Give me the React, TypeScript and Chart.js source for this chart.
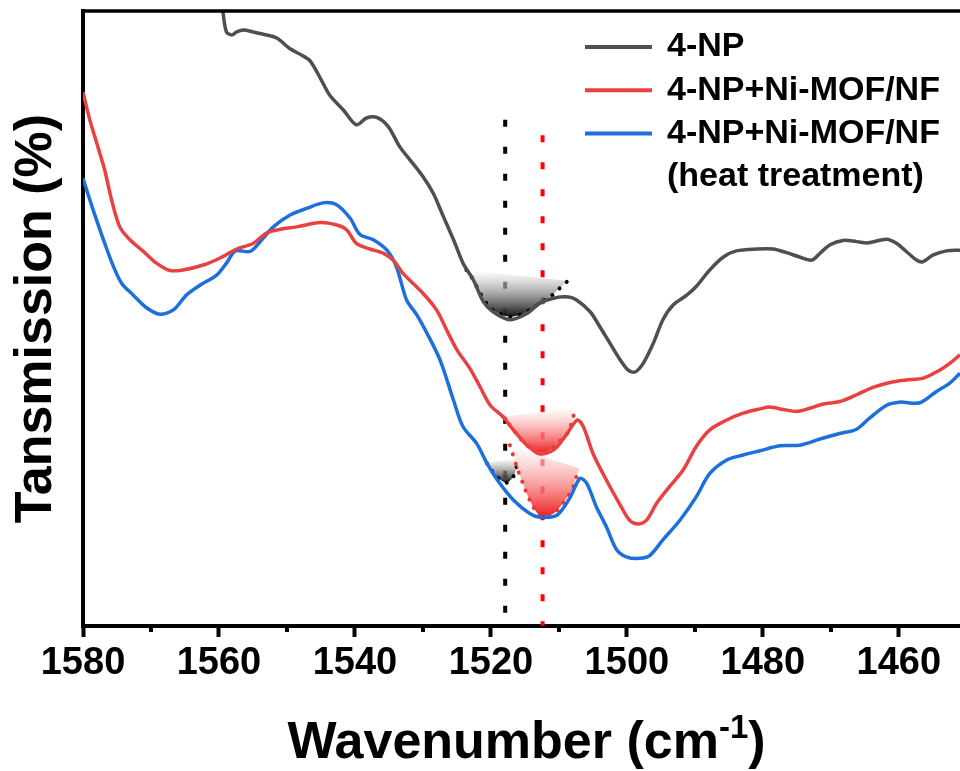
import React, { useEffect, useRef } from 'react';
import { Chart, registerables } from 'chart.js';

Chart.register(...registerables);

const FONT = '"Liberation Sans", Arial, Helvetica, sans-serif';

// ---- Series labels / colours ----
const seriesLabels = ['4-NP', '4-NP+Ni-MOF/NF', '4-NP+Ni-MOF/NF'];
const seriesSubLabels = ['', '', '(heat treatment)'];
const seriesColors = ['#4f4f4f', '#e8413f', '#1c6fdc'];

// ---- 4-NP ----
const npWavenumber = [1559.6, 1559.4, 1558.9, 1558.1, 1557.4, 1556.4, 1555.0, 1553.0, 1551.5, 1549.6, 1547.8, 1546.6, 1545.1, 1543.7, 1541.7, 1539.8, 1538.3, 1536.8, 1535.1, 1533.4, 1531.9, 1530.0, 1528.5, 1527.0, 1525.5, 1524.1, 1522.6, 1521.1, 1519.7, 1517.2, 1514.7, 1512.8, 1510.8, 1508.6, 1507.4, 1505.4, 1504.0, 1502.5, 1501.0, 1499.8, 1498.8, 1497.6, 1496.1, 1494.7, 1493.2, 1491.2, 1489.8, 1487.8, 1485.8, 1483.9, 1480.9, 1478.5, 1476.5, 1474.6, 1472.8, 1471.6, 1470.1, 1468.2, 1466.2, 1464.5, 1461.8, 1460.3, 1458.9, 1457.4, 1456.5, 1455.0, 1453.0, 1451.0];
const npT = [101.8, 99.7, 96.6, 96.1, 96.6, 96.9, 96.6, 96.1, 95.6, 93.9, 92.8, 91.9, 89.1, 86.3, 83.9, 81.5, 82.6, 82.7, 81.2, 77.9, 75.8, 73.1, 70.4, 66.6, 62.8, 59.0, 56.3, 52.7, 51.1, 49.8, 50.8, 52.5, 53.3, 53.5, 53.0, 51.1, 48.7, 46.0, 43.3, 41.6, 41.3, 42.7, 46.0, 49.8, 52.2, 53.8, 55.2, 57.9, 60.0, 61.0, 61.3, 61.3, 60.7, 60.0, 59.5, 60.6, 62.0, 62.7, 62.5, 62.3, 62.9, 62.2, 60.9, 59.5, 59.2, 60.3, 61.0, 61.1];

// ---- 4-NP + Ni-MOF/NF ----
const mofWavenumber = [1580.0, 1579.0, 1577.8, 1576.8, 1575.8, 1574.6, 1573.1, 1571.1, 1569.2, 1567.2, 1565.3, 1562.3, 1559.9, 1557.4, 1555.0, 1553.0, 1551.0, 1548.6, 1545.1, 1542.7, 1541.2, 1539.8, 1537.8, 1535.8, 1534.4, 1532.9, 1530.0, 1528.0, 1526.5, 1525.0, 1523.1, 1521.6, 1520.1, 1518.2, 1516.7, 1514.7, 1512.9, 1510.8, 1508.9, 1507.3, 1506.4, 1505.0, 1503.0, 1501.0, 1499.6, 1498.3, 1497.1, 1495.6, 1493.7, 1491.7, 1489.8, 1487.8, 1485.3, 1482.9, 1480.4, 1479.0, 1477.0, 1475.0, 1473.1, 1471.1, 1468.7, 1466.2, 1463.8, 1461.3, 1458.9, 1456.4, 1454.0, 1452.5, 1451.0];
const mofT = [86.8, 82.3, 77.9, 74.1, 69.3, 64.9, 62.8, 60.9, 59.0, 57.8, 57.9, 58.7, 59.8, 61.3, 62.2, 63.9, 64.5, 64.9, 65.6, 65.2, 64.4, 62.2, 61.3, 60.6, 59.5, 57.3, 54.1, 51.4, 48.1, 44.9, 41.9, 38.9, 35.9, 34.0, 31.9, 29.4, 28.0, 28.6, 31.1, 33.5, 32.4, 28.1, 23.7, 19.7, 17.2, 16.6, 17.2, 20.0, 22.7, 25.4, 29.2, 31.9, 33.5, 34.6, 35.3, 35.6, 35.2, 34.9, 35.4, 36.1, 36.5, 37.6, 38.8, 39.6, 40.0, 40.3, 41.6, 42.7, 44.1];

// ---- 4-NP + Ni-MOF/NF (heat treatment) ----
const heatWavenumber = [1580.0, 1579.0, 1578.0, 1576.8, 1575.5, 1574.3, 1572.6, 1570.6, 1568.7, 1566.7, 1564.8, 1562.8, 1560.3, 1558.9, 1557.6, 1555.4, 1553.7, 1552.0, 1549.6, 1547.1, 1544.7, 1542.7, 1540.7, 1539.3, 1537.3, 1535.3, 1533.9, 1532.4, 1530.9, 1529.5, 1527.5, 1525.5, 1524.1, 1522.1, 1520.6, 1518.7, 1516.7, 1514.3, 1512.8, 1510.3, 1508.4, 1506.9, 1505.9, 1504.5, 1503.0, 1501.5, 1500.0, 1498.1, 1496.6, 1494.7, 1492.2, 1489.8, 1487.8, 1485.3, 1482.9, 1480.4, 1477.5, 1474.6, 1471.6, 1468.7, 1466.2, 1464.3, 1461.8, 1459.9, 1456.9, 1454.5, 1452.5, 1451.0];
const heatT = [72.8, 69.3, 66.0, 62.2, 58.4, 55.7, 53.8, 51.7, 50.7, 51.4, 53.8, 55.4, 57.1, 59.0, 61.0, 60.9, 62.8, 64.9, 66.8, 67.9, 68.8, 68.5, 66.3, 63.7, 62.8, 61.1, 58.4, 53.0, 50.6, 47.8, 43.3, 36.7, 32.4, 29.7, 26.5, 23.2, 20.5, 18.3, 17.7, 18.0, 20.8, 24.0, 23.2, 19.4, 16.1, 12.4, 11.2, 11.0, 11.5, 14.0, 17.2, 21.0, 24.8, 27.0, 27.8, 28.5, 29.3, 29.4, 30.4, 31.3, 32.0, 33.8, 35.9, 36.4, 36.3, 38.1, 39.5, 41.1];

// ---- Fitted peaks (dotted, shaded) ----
const peakNpWavenumber = [1523.6, 1522.6, 1521.6, 1520.1, 1518.7, 1517.2, 1515.7, 1514.3, 1512.8, 1511.3, 1509.9, 1508.7];
const peakNpT = [57.9, 56.3, 54.1, 51.7, 50.8, 50.3, 50.6, 51.4, 52.5, 53.5, 54.9, 56.1];
const peakMofWavenumber = [1518.2, 1516.7, 1515.3, 1513.8, 1512.8, 1511.3, 1509.9, 1508.6, 1507.9, 1507.3];
const peakMofT = [34.0, 31.9, 30.0, 28.6, 28.2, 28.6, 30.0, 31.6, 34.0, 35.6];
const peakHeatRedWavenumber = [1517.2, 1516.2, 1515.3, 1514.3, 1512.8, 1510.8, 1509.4, 1508.1, 1507.4, 1507.0];
const peakHeatRedT = [29.4, 25.9, 23.2, 20.5, 18.0, 18.3, 20.0, 22.1, 24.3, 25.6];
const peakHeatGrayWavenumber = [1520.6, 1519.2, 1517.7, 1516.7, 1516.2, 1516.0];
const peakHeatGrayT = [26.5, 24.3, 23.3, 24.3, 25.9, 27.3];

// ---- Vertical reference lines ----
const markerWavenumbers = [1517.9, 1512.4];
const markerTops = [82.3, 79.8];
const markerColors = ['#000000', '#ff0000'];

// ---- Axis ----
const xMin = 1451;
const xMax = 1580;
const majorTicks = [1460, 1480, 1500, 1520, 1540, 1560, 1580];
const minorTicks = [1470, 1490, 1510, 1530, 1550, 1570];

const pts = (xs: number[], ys: number[]) => xs.map((x, i) => ({ x, y: ys[i] }));
const chord = (xs: number[], ys: number[]) => [
  { x: xs[0], y: ys[0] },
  { x: xs[xs.length - 1], y: ys[ys.length - 1] },
];

const gradientFill = (ys: number[], topCol: string, bottomCol: string) => (c: any) => {
  const chart = c.chart;
  const sc = chart.scales && chart.scales.y;
  if (!chart.chartArea || !sc) return bottomCol;
  const top = Math.max(ys[0], ys[ys.length - 1]);
  const bottom = Math.min(...ys);
  const g = chart.ctx.createLinearGradient(0, sc.getPixelForValue(top), 0, sc.getPixelForValue(bottom));
  g.addColorStop(0, topCol);
  g.addColorStop(1, bottomCol);
  return g;
};

const peakDataset = (xs: number[], ys: number[], dotColor: string, topCol: string, bottomCol: string) => ({
  data: pts(xs, ys),
  borderColor: dotColor,
  borderWidth: 4,
  borderDash: [0.1, 9.5],
  borderCapStyle: 'round',
  pointRadius: 0,
  tension: 0.3,
  fill: '+1',
  backgroundColor: gradientFill(ys, topCol, bottomCol),
  order: 2,
});

const chordDataset = (xs: number[], ys: number[]) => ({
  data: chord(xs, ys),
  borderColor: 'rgba(0,0,0,0)',
  borderWidth: 0,
  pointRadius: 0,
  fill: false,
  order: 3,
});

const decorPlugin = {
  id: 'decor',
  afterDraw(chart: any) {
    const { ctx, chartArea, scales } = chart;
    const xs = scales.x;
    ctx.save();
    // top frame line
    ctx.fillStyle = '#000';
    ctx.fillRect(chartArea.left - 2, chartArea.top - 1.75, chartArea.right - chartArea.left + 2, 3.5);
    // minor ticks
    ctx.strokeStyle = '#000';
    ctx.lineWidth = 4;
    minorTicks.forEach((v) => {
      const px = Math.round(xs.getPixelForValue(v));
      ctx.beginPath();
      ctx.moveTo(px, chartArea.bottom + 2);
      ctx.lineTo(px, chartArea.bottom + 6);
      ctx.stroke();
    });
    // x-axis title with superscript
    const big = `bold 52px ${FONT}`;
    const small = `bold 33px ${FONT}`;
    const p1 = 'Wavenumber (cm';
    const sup = '-1';
    const p2 = ')';
    ctx.font = big;
    const w1 = ctx.measureText(p1).width;
    const w3 = ctx.measureText(p2).width;
    ctx.font = small;
    const w2 = ctx.measureText(sup).width;
    const total = w1 + w2 + w3;
    let x = 526.5 - total / 2;
    const base = 758;
    ctx.fillStyle = '#000';
    ctx.textBaseline = 'alphabetic';
    ctx.textAlign = 'left';
    ctx.font = big;
    ctx.fillText(p1, x, base);
    x += w1;
    ctx.font = small;
    ctx.fillText(sup, x, base - 20);
    x += w2;
    ctx.font = big;
    ctx.fillText(p2, x, base);
    // legend
    ctx.font = `bold 34px ${FONT}`;
    ctx.textBaseline = 'middle';
    const lx0 = 585;
    const lx1 = 652;
    const tx = 667;
    let y = 47;
    const step = 43.3;
    seriesLabels.forEach((lab, i) => {
      ctx.strokeStyle = seriesColors[i];
      ctx.lineWidth = 4;
      ctx.beginPath();
      ctx.moveTo(lx0, y);
      ctx.lineTo(lx1, y);
      ctx.stroke();
      ctx.fillStyle = '#000';
      ctx.fillText(lab, tx, y);
      if (seriesSubLabels[i]) {
        y += step;
        ctx.fillText(seriesSubLabels[i], tx, y);
      }
      y += step;
    });
    ctx.restore();
  },
};

export default function App() {
  const ref = useRef<HTMLCanvasElement | null>(null);
  useEffect(() => {
    document.body.style.margin = '0';
    const canvas = ref.current;
    if (!canvas) return;

    const mainSeries = [
      { xs: npWavenumber, ys: npT },
      { xs: mofWavenumber, ys: mofT },
      { xs: heatWavenumber, ys: heatT },
    ];

    const datasets: any[] = [];
    mainSeries.forEach((s, i) => {
      datasets.push({
        label: seriesLabels[i] + (seriesSubLabels[i] ? ' ' + seriesSubLabels[i] : ''),
        data: pts(s.xs, s.ys),
        borderColor: seriesColors[i],
        borderWidth: 3.5,
        pointRadius: 0,
        tension: 0.3,
        fill: false,
        order: 0,
      });
    });
    datasets.push(peakDataset(peakNpWavenumber, peakNpT, '#000000', 'rgba(255,255,255,0.5)', 'rgba(20,20,20,1)'));
    datasets.push(chordDataset(peakNpWavenumber, peakNpT));
    datasets.push(peakDataset(peakMofWavenumber, peakMofT, '#e53935', 'rgba(255,255,255,0.5)', 'rgba(240,35,35,1)'));
    datasets.push(chordDataset(peakMofWavenumber, peakMofT));
    datasets.push(peakDataset(peakHeatRedWavenumber, peakHeatRedT, '#e53935', 'rgba(255,255,255,0.5)', 'rgba(240,35,35,1)'));
    datasets.push(chordDataset(peakHeatRedWavenumber, peakHeatRedT));
    datasets.push(peakDataset(peakHeatGrayWavenumber, peakHeatGrayT, '#000000', 'rgba(255,255,255,0.5)', 'rgba(20,20,20,1)'));
    datasets.push(chordDataset(peakHeatGrayWavenumber, peakHeatGrayT));
    markerWavenumbers.forEach((w, i) => {
      datasets.push({
        data: [{ x: w, y: markerTops[i] }, { x: w, y: 0 }],
        borderColor: markerColors[i],
        borderWidth: 4,
        borderDash: [7, 20],
        borderCapStyle: 'butt',
        pointRadius: 0,
        fill: false,
        tension: 0,
        order: 5,
      });
    });

    const chart = new Chart(canvas, {
      type: 'line',
      data: { datasets },
      options: {
        responsive: false,
        animation: false,
        devicePixelRatio: 1,
        events: [],
        layout: { padding: { top: 11, left: 0, right: 0, bottom: 0 } },
        plugins: {
          legend: { display: false },
          tooltip: { enabled: false },
        },
        scales: {
          x: {
            type: 'linear',
            reverse: true,
            min: xMin,
            max: xMax,
            bounds: 'data',
            afterFit: (s: any) => { s.height = 145; },
            afterBuildTicks: (s: any) => { s.ticks = majorTicks.map((v) => ({ value: v })); },
            ticks: {
              autoSkip: false,
              maxRotation: 0,
              minRotation: 0,
              padding: 4,
              color: '#000',
              font: { family: FONT, size: 38, weight: 'bold' },
              callback: (v: any) => String(v),
            },
            grid: {
              display: true,
              drawOnChartArea: false,
              drawTicks: true,
              tickLength: 11,
              tickWidth: 4,
              tickColor: '#000',
            },
            border: { display: true, width: 4, color: '#000' },
            title: { display: false },
          },
          y: {
            type: 'linear',
            min: 0,
            max: 100,
            bounds: 'data',
            afterFit: (s: any) => { s.width = 83; },
            ticks: { display: false },
            grid: { display: false },
            border: { display: true, width: 4, color: '#000' },
            title: {
              display: true,
              text: 'Tansmission (%)',
              color: '#000',
              font: { family: FONT, size: 52, weight: 'bold' },
              padding: { top: 5, bottom: 0 },
            },
          },
        },
      },
      plugins: [decorPlugin],
    } as any);
    return () => chart.destroy();
  }, []);

  return (
    <div style={{ width: 960, height: 771, background: '#fff' }}>
      <canvas ref={ref} width={960} height={771} style={{ display: 'block' }} />
    </div>
  );
}
